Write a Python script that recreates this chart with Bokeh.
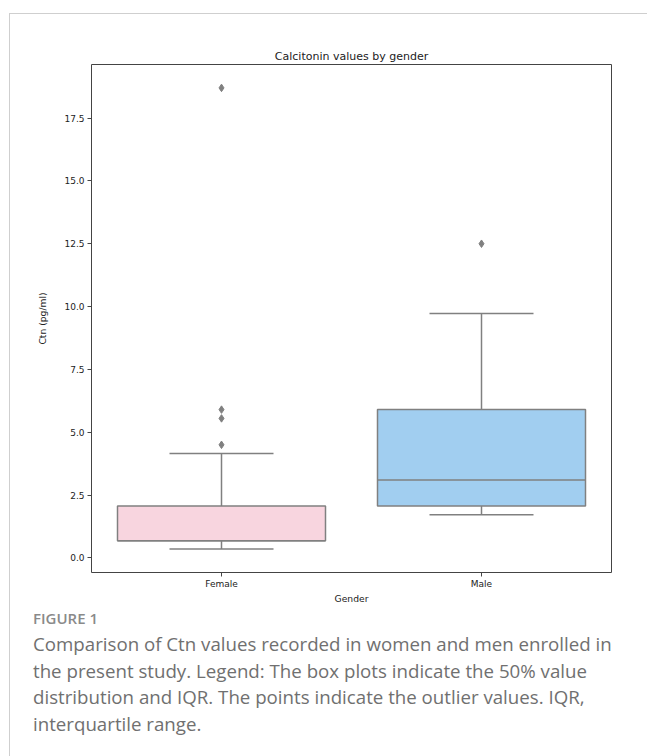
from bokeh.plotting import figure
from bokeh.models import FactorRange, Range1d, ColumnDataSource, Div, FixedTicker, CustomJSTickFormatter
from bokeh.layouts import column
from bokeh.embed import file_html
from bokeh.resources import INLINE

# ---- data ----
categories = ["Female", "Male"]
q1 = [0.68, 2.07]
median = [0.68, 3.10]
q3 = [2.07, 5.90]
whisker_low = [0.35, 1.72]
whisker_high = [4.15, 9.72]
outlier_gender = ["Female", "Female", "Female", "Female", "Male"]
outlier_values = [4.50, 5.55, 5.90, 18.70, 12.50]
box_colors = ["#f8d5df", "#a1cef0"]
y_ticks = [0.0, 2.5, 5.0, 7.5, 10.0, 12.5, 15.0, 17.5]

GRAY = "#808080"
FONT = "DejaVu Sans"

p = figure(
    x_range=FactorRange(*categories, range_padding=0),
    y_range=Range1d(-0.58, 19.63),
    frame_width=520, frame_height=508,
    min_border_left=81, min_border_right=36, min_border_top=50, min_border_bottom=33,
    output_backend="svg", toolbar_location=None,
    title="Calcitonin values by gender",
)
p.title.align = "center"
p.title.text_font = FONT
p.title.text_font_size = "11px"
p.title.text_font_style = "normal"
p.title.text_color = "#222222"
p.title.standoff = 3

p.grid.visible = False
p.outline_line_color = "#444444"
p.outline_line_width = 1

for ax in (p.xaxis[0], p.yaxis[0]):
    ax.axis_line_color = None
    ax.major_tick_line_color = "#444444"
    ax.major_tick_out = 4
    ax.major_tick_in = 0
    ax.minor_tick_line_color = None
    ax.major_label_text_font = FONT
    ax.major_label_text_font_size = "9px"
    ax.major_label_text_color = "#222222"
    ax.axis_label_text_font = FONT
    ax.axis_label_text_font_size = "9.2px"
    ax.axis_label_text_font_style = "normal"
    ax.axis_label_text_color = "#222222"

p.yaxis.ticker = FixedTicker(ticks=y_ticks)
p.yaxis.formatter = CustomJSTickFormatter(code="return tick.toFixed(1);")
p.yaxis.axis_label = "Ctn (pg/ml)"
p.yaxis.major_label_standoff = 3
p.yaxis.axis_label_standoff = 13
p.xaxis.axis_label = "Gender"
p.xaxis.major_label_standoff = 2
p.xaxis.axis_label_standoff = 1

src = ColumnDataSource(dict(
    cat=categories, q1=q1, q3=q3, med=median, lo=whisker_low, hi=whisker_high,
    color=box_colors,
    left=[(c, -0.4) for c in categories], right=[(c, 0.4) for c in categories],
    cl=[(c, -0.2) for c in categories], cr=[(c, 0.2) for c in categories],
))

# whiskers
p.segment(x0="cat", y0="q3", x1="cat", y1="hi", source=src, line_color=GRAY, line_width=1.5)
p.segment(x0="cat", y0="q1", x1="cat", y1="lo", source=src, line_color=GRAY, line_width=1.5)
# caps
p.segment(x0="cl", y0="hi", x1="cr", y1="hi", source=src, line_color=GRAY, line_width=1.5)
p.segment(x0="cl", y0="lo", x1="cr", y1="lo", source=src, line_color=GRAY, line_width=1.5)
# boxes
p.vbar(x="cat", width=0.8, bottom="q1", top="q3", source=src,
       fill_color="color", line_color=GRAY, line_width=1.5)
# medians
p.segment(x0="left", y0="med", x1="right", y1="med", source=src, line_color=GRAY, line_width=1.5)
# outliers
p.scatter(x=outlier_gender, y=outlier_values, marker="diamond", size=7.5,
          fill_color=GRAY, line_color=GRAY)

caption = Div(
    text=('<div style="width:590px;">'
          '<div style="font-family:\'Open Sans\',sans-serif;color:#8a8a8a;font-size:15px;'
          'font-weight:600;line-height:20px;margin:0 0 3px 0;">FIGURE 1</div>'
          '<div style="font-family:\'Open Sans\',sans-serif;color:#707070;font-size:18.7px;'
          'line-height:26.5px;">Comparison of Ctn values recorded in women and men enrolled in '
          'the present study. Legend: The box plots indicate the 50% value distribution and IQR. '
          'The points indicate the outlier values. IQR, interquartile range.</div></div>'),
    width=610, height=150, margin=(2, 0, 0, 23),
)

layout = column(p, caption, margin=(13, 0, 0, 9),
                styles={"border-top": "1px solid #cfcfcf", "border-left": "1px solid #cfcfcf"})

open("out.html", "w").write(file_html(layout, INLINE))
